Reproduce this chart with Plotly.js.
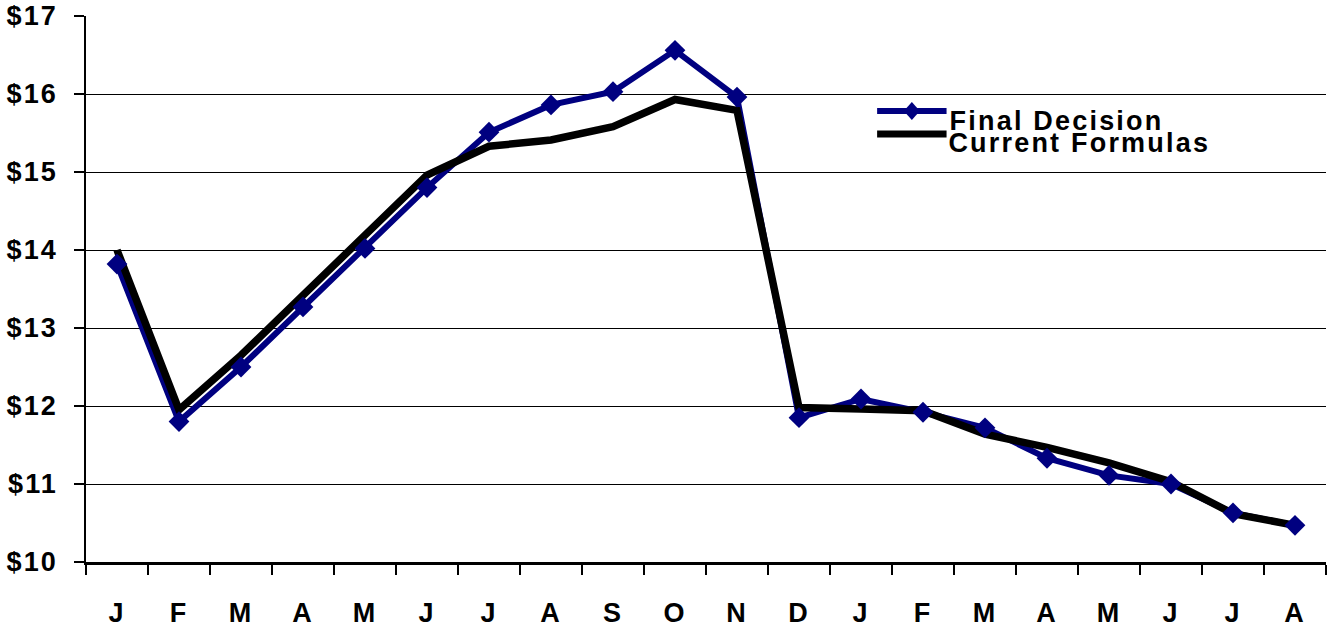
<!DOCTYPE html>
<html>
<head>
<meta charset="utf-8">
<script src="https://cdn.plot.ly/plotly-3.0.1.min.js"></script>
<style>
html, body { margin: 0; padding: 0; background: #fff; }
#chart { width: 1327px; height: 629px; }
.main-svg text { letter-spacing: 2.2px; }
</style>
</head>
<body>
<div id="chart"></div>
<script>
// Month labels (20 months)
const months = ["J","F","M","A","M","J","J","A","S","O","N","D","J","F","M","A","M","J","J","A"];
// Series values ($)
const finalDecision = [13.82, 11.80, 12.50, 13.27, 14.02, 14.80, 15.51, 15.86, 16.03, 16.56, 15.96, 11.85, 12.09, 11.92, 11.72, 11.33, 11.11, 11.00, 10.63, 10.47];
const currentFormulas = [14.00, 11.95, 12.65, 13.42, 14.21, 14.96, 15.33, 15.41, 15.58, 15.93, 15.79, 11.98, 11.96, 11.94, 11.64, 11.47, 11.27, 11.03, 10.62, 10.47];
const seriesNames = ["Final Decision", "Current Formulas"];
const yTicks = [10, 11, 12, 13, 14, 15, 16, 17];

const xIdx = months.map((m, i) => i);
const boundaries = months.map((m, i) => i - 0.5).concat([months.length - 0.5]);
const navy = "#000080";
const fontFam = "'Liberation Sans', Arial, sans-serif";
const fnt = { family: fontFam, size: 27, color: "#000", weight: 700 };

const traces = [
  { x: xIdx, y: finalDecision, type: "scatter", mode: "lines", name: seriesNames[0],
    line: { color: navy, width: 6 }, showlegend: false },
  { x: xIdx, y: currentFormulas, type: "scatter", mode: "lines", name: seriesNames[1],
    line: { color: "#000000", width: 7.5 }, showlegend: false },
  { x: xIdx, y: finalDecision, type: "scatter", mode: "markers", name: seriesNames[0],
    marker: { symbol: "diamond", size: 16, color: navy }, showlegend: false }
];

// manual legend geometry (paper coords)
const lgX0 = 0.638, lgX1 = 0.694;
const lgY = [0.826, 0.784];
const lgTextX = [0.7823, 0.8015];
const lgTextY = [0.808, 0.768];

const layout = {
  width: 1327, height: 629,
  margin: { l: 86, r: 1, t: 16, b: 67, pad: 0 },
  paper_bgcolor: "#ffffff", plot_bgcolor: "#ffffff",
  showlegend: false,
  font: fnt,
  xaxis: {
    range: [-0.5, months.length - 0.5],
    tickmode: "array", tickvals: xIdx, ticktext: months,
    ticks: "", showgrid: false, zeroline: false,
    showline: true, linecolor: "#000", linewidth: 2.5,
    ticklabelstandoff: 25,
    tickfont: fnt,
    minor: { tickmode: "array", tickvals: boundaries, ticks: "outside", ticklen: 10, tickwidth: 2, tickcolor: "#000", showgrid: false },
    fixedrange: true
  },
  yaxis: {
    range: [10, 17],
    tickmode: "array", tickvals: yTicks, ticktext: yTicks.map(v => "$" + v),
    ticks: "outside", ticklen: 10, tickwidth: 2, tickcolor: "#000",
    showgrid: true, gridcolor: "#000", gridwidth: 1,
    zeroline: false, showline: true, linecolor: "#000", linewidth: 2.5,
    ticklabelstandoff: 10,
    tickfont: fnt,
    fixedrange: true
  },
  shapes: [
    { type: "line", xref: "paper", yref: "paper", x0: lgX0, x1: lgX1, y0: lgY[0], y1: lgY[0], line: { color: navy, width: 6 } },
    { type: "path", xref: "paper", yref: "paper", xsizemode: "pixel", ysizemode: "pixel",
      xanchor: (lgX0 + lgX1) / 2, yanchor: lgY[0], path: "M0,9 L8,0 L0,-9 L-8,0 Z",
      fillcolor: navy, line: { width: 0 } },
    { type: "line", xref: "paper", yref: "paper", x0: lgX0, x1: lgX1, y0: lgY[1], y1: lgY[1], line: { color: "#000", width: 7 } }
  ],
  annotations: seriesNames.map((n, i) => ({
    text: n, xref: "paper", yref: "paper", x: lgTextX[i], y: lgTextY[i],
    xanchor: "center", yanchor: "middle", showarrow: false,
    font: fnt
  }))
};

Plotly.newPlot("chart", traces, layout, { displayModeBar: false, staticPlot: true });
</script>
</body>
</html>
